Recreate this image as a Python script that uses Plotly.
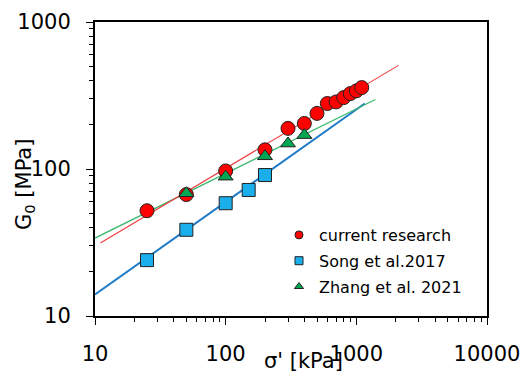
import plotly.graph_objects as go

# ---- data ----
cur_x = [25, 50, 100, 200, 300, 400, 500, 600, 700, 800, 900, 1000, 1100]
cur_y = [52, 67, 97, 135, 189, 204, 239, 279, 286, 306, 326, 340, 358]

song_x = [25, 50, 100, 150, 200]
song_y = [24, 38.6, 58.5, 72, 91]

zhang_x = [50, 100, 200, 300, 400]
zhang_y = [68.4, 88.7, 122, 149, 170]

# trend lines (power-law fits, endpoints)
cur_fit_x = [11, 2100]
cur_fit_y = [31.4, 507]
song_fit_x = [10, 1160]
song_fit_y = [14, 279]
zhang_fit_x = [10, 1400]
zhang_fit_y = [33.9, 297]

names = ["current research", "Song et al.2017", "Zhang et al. 2021"]

RED = "#FF0000"
BLUE = "#1AAEEB"
GREEN = "#00A651"
RED_LINE = "#F03C3C"
BLUE_LINE = "#1F7BC8"
GREEN_LINE = "#3CB86E"
EDGE = "#222222"

fig = go.Figure()

# trend lines
fig.add_trace(go.Scatter(x=song_fit_x, y=song_fit_y, mode="lines",
                         line=dict(color=BLUE_LINE, width=2), showlegend=False))
fig.add_trace(go.Scatter(x=zhang_fit_x, y=zhang_fit_y, mode="lines",
                         line=dict(color=GREEN_LINE, width=1.3), showlegend=False))
fig.add_trace(go.Scatter(x=cur_fit_x, y=cur_fit_y, mode="lines",
                         line=dict(color=RED_LINE, width=1.1), showlegend=False))

# data markers
fig.add_trace(go.Scatter(x=song_x, y=song_y, mode="markers",
                         marker=dict(symbol="square", size=13, color=BLUE,
                                     line=dict(color=EDGE, width=1)),
                         showlegend=False))
fig.add_trace(go.Scatter(x=cur_x, y=cur_y, mode="markers",
                         marker=dict(symbol="circle", size=14, color=RED,
                                     line=dict(color=EDGE, width=1)),
                         showlegend=False))
fig.add_trace(go.Scatter(x=zhang_x, y=zhang_y, mode="markers",
                         marker=dict(symbol="triangle-up", size=13, color=GREEN,
                                     line=dict(color=EDGE, width=1)),
                         showlegend=False))

# legend entries (small symbols as in the reference)
for nm, sym, col in zip(names, ["circle", "square", "triangle-up"], [RED, BLUE, GREEN]):
    fig.add_trace(go.Scatter(x=[None], y=[None], mode="markers", name=nm,
                             legendgroup=nm,
                             marker=dict(symbol=sym, size=8, color=col,
                                         line=dict(color=EDGE, width=1))))

def minor_vals(lo, hi):
    vals = []
    d = lo
    while d < hi:
        for k in range(2, 10):
            vals.append(k * d)
        d *= 10
    return vals

FONT = "DejaVu Sans"

fig.update_xaxes(type="log", range=[1, 4], automargin=False,
                 tickvals=[10, 100, 1000, 10000],
                 ticktext=["10", "100", "1000", "10000"],
                 ticks="outside", ticklen=7, tickwidth=1, tickcolor="black",
                 minor=dict(ticks="outside", ticklen=4, tickwidth=1, tickcolor="black",
                            tickvals=minor_vals(10, 10000), showgrid=False),
                 showline=True, linecolor="black", linewidth=2, mirror=True,
                 showgrid=False, zeroline=False,
                 tickfont=dict(family=FONT, size=21, color="black"),
                 ticklabelstandoff=11)
fig.update_yaxes(type="log", range=[1, 3], automargin=False,
                 tickvals=[10, 100, 1000],
                 ticktext=["10", "100", "1000"],
                 ticks="outside", ticklen=7, tickwidth=1, tickcolor="black",
                 minor=dict(ticks="outside", ticklen=4, tickwidth=1, tickcolor="black",
                            tickvals=minor_vals(10, 1000), showgrid=False),
                 showline=True, linecolor="black", linewidth=2, mirror=True,
                 showgrid=False, zeroline=False,
                 tickfont=dict(family=FONT, size=21, color="black"),
                 ticklabelstandoff=11)

fig.add_annotation(text="σ' [kPa]", xref="paper", yref="paper",
                   x=(303 - 95) / 392, y=-(361 - 316) / 294,
                   showarrow=False, xanchor="center", yanchor="middle",
                   font=dict(family=FONT, size=21, color="black"))
fig.add_annotation(text="G<sub>0</sub> [MPa]", xref="paper", yref="paper",
                   x=-(95 - 25) / 392, y=(316 - 185) / 294, textangle=-90,
                   showarrow=False, xanchor="center", yanchor="middle",
                   font=dict(family=FONT, size=21, color="black"))

fig.update_layout(
    width=528, height=374,
    margin=dict(l=95, r=41, t=22, b=58, autoexpand=False),
    paper_bgcolor="white", plot_bgcolor="white",
    font=dict(family=FONT, color="black"),
    legend=dict(x=(279 - 95) / 392, y=(316 - 218) / 294, xanchor="left", yanchor="top",
                bgcolor="rgba(0,0,0,0)", font=dict(family=FONT, size=16, color="black"),
                traceorder="grouped", tracegroupgap=2, itemwidth=30),
)

fig.write_html("out.html")
